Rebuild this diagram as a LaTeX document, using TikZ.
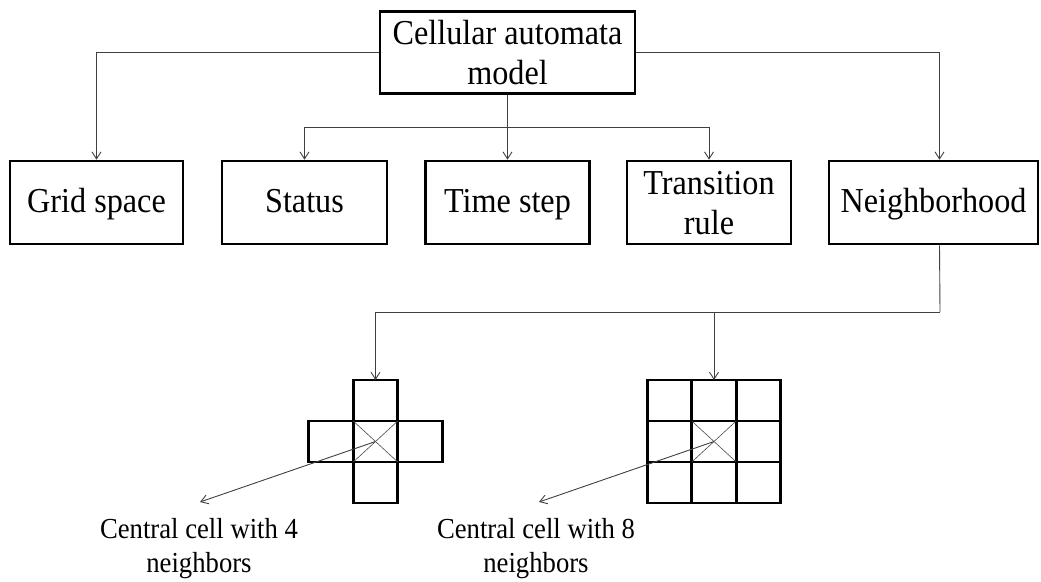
\documentclass[tikz,border=0pt]{standalone}
\usepackage{fontspec}
\setmainfont{Liberation Serif}[FakeStretch=0.92]
\usetikzlibrary{arrows.meta,calc}

\begin{document}
\begin{tikzpicture}[x=1pt,y=-1pt,
  box/.style={draw=black, line width=2.6pt, minimum height=83pt, inner sep=0pt,
    align=center, font=\fontsize{35}{40}\selectfont},
  one/.style={text height=23pt, text depth=4pt},
  link/.style={draw=black!75, line width=0.9pt},
  tip/.style={-{Straight Barb[length=7pt,width=9pt,line width=0.9pt]}},
  cell/.style={draw=black, line width=2.8pt, minimum width=44.5pt, minimum height=41pt,
    inner sep=0pt, outer sep=0pt},
  diag/.style={draw=black!70, line width=0.6pt},
  note/.style={font=\fontsize{29}{34}\selectfont, align=center, inner sep=0pt}
]
\useasboundingbox (0,0) rectangle (1041,581);

% root and the five components
\node[box, minimum width=255pt, minimum height=82pt] (cam) at (507.5,52.5) {Cellular automata\\model};
\node[box, one, minimum width=173pt] (grid)  at (96.5,202.5)  {Grid space};
\node[box, one, minimum width=165pt] (stat)  at (304.5,202.5) {Status};
\node[box, one, minimum width=164pt] (time)  at (507.5,202.5) {Time step};
\node[box, minimum width=164pt] (trans) at (709,202.5)
  {\raisebox{-4pt}[\height][\depth]{\begin{tabular}{@{}c@{}}Transition\\rule\end{tabular}}};
\node[box, one, minimum width=209pt] (neigh) at (933.5,202.5) {Neighborhood};

% branches from the root
\draw[link,tip] (cam.west) -| (grid.north);
\draw[link,tip] (cam.east) -| ([xshift=6pt]neigh.north);
\coordinate (mid) at (507.5,127);
\draw[link,tip] (cam.south) -- (time.north);
\draw[link,tip] (mid) -| (stat.north);
\draw[link,tip] (mid) -| (trans.north);

% von Neumann neighbourhood (cross)
\node[cell] (c4c) at (375.5,441.5) {};
\node[cell] (c4t) at ($(c4c)+(0,-41)$) {};
\node[cell] (c4b) at ($(c4c)+(0,41)$) {};
\node[cell] (c4l) at ($(c4c)+(-44.5,0)$) {};
\node[cell] (c4r) at ($(c4c)+(44.5,0)$) {};

% Moore neighbourhood (3x3)
\node[cell] (c8c) at (714,441.5) {};
\foreach \n/\dx/\dy in {nw/-1/-1, n/0/-1, ne/1/-1, w/-1/0, e/1/0, sw/-1/1, s/0/1, se/1/1}
  \node[cell] (c8\n) at ($(c8c)+(\dx*44.5,\dy*41)$) {};

% diagonals marking the central cells
\foreach \c in {c4c,c8c} {
  \draw[diag] (\c.north west) -- (\c.south east);
  \draw[diag] (\c.north east) -- (\c.south west);
}

% branches from Neighborhood
\coordinate (nb) at (940,312);
\draw[link] ([xshift=6pt]neigh.south) -- (nb);
\draw[link,tip] (nb) -| (c4t.north);
\draw[link,tip] (c8n.north |- nb) -- (c8n.north);

% captions
\node[note, anchor=north] (n4) at (199,518) {Central cell with 4\\neighbors};
\node[note, anchor=north] (n8) at (536,518) {Central cell with 8\\neighbors};
\draw[link,tip] (c4c.center) -- ([xshift=1pt,yshift=16pt]n4.north);
\draw[link,tip] (c8c.center) -- ([xshift=3pt,yshift=16pt]n8.north);
\end{tikzpicture}
\end{document}
